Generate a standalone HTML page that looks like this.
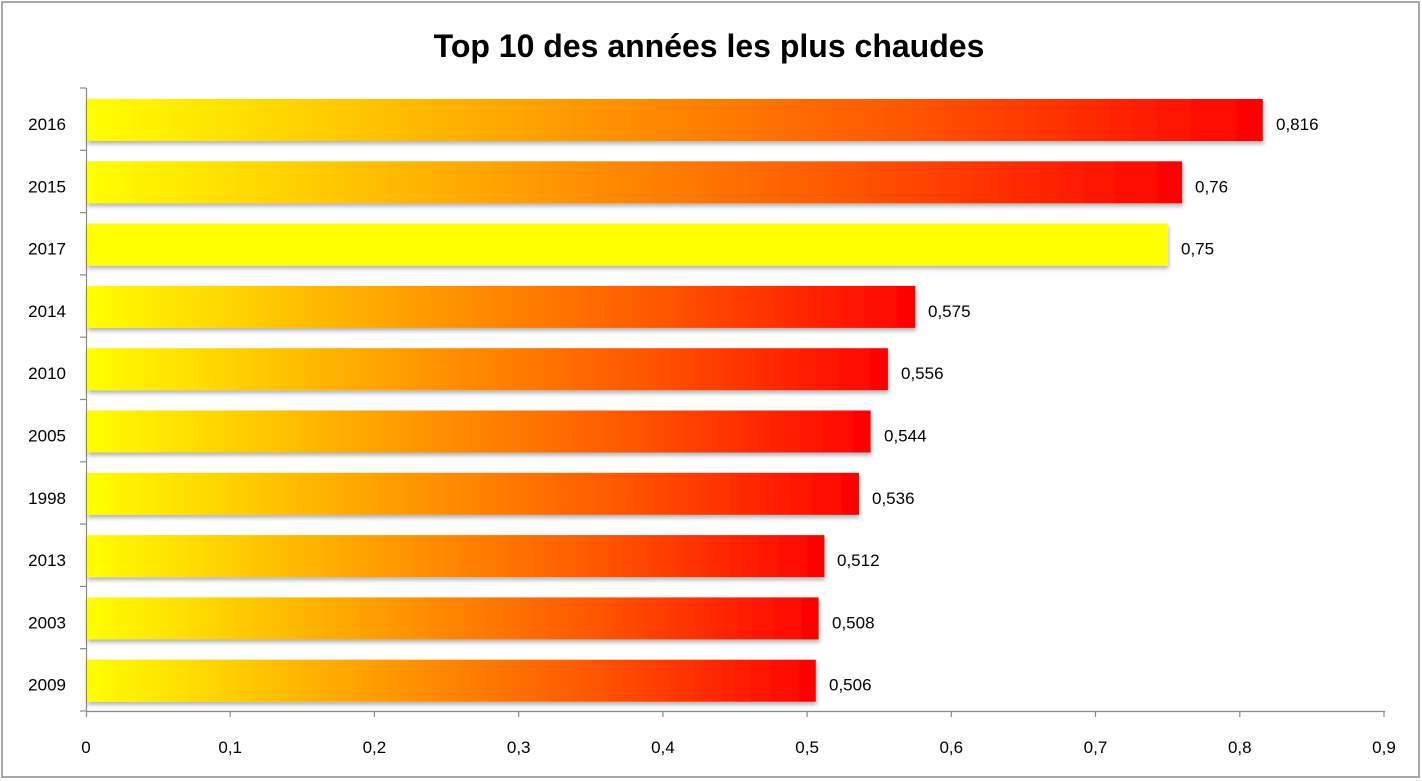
<!DOCTYPE html>
<html><head><meta charset="utf-8"><style>
html,body{margin:0;padding:0;background:#fff;}
svg{display:block;font-family:"Liberation Sans",sans-serif;}
</style></head><body>
<svg width="1422" height="781" viewBox="0 0 1422 781">
<defs>
<linearGradient id="g" x1="0" y1="0" x2="1" y2="0">
<stop offset="0" stop-color="#ffff00"/>
<stop offset="0.35" stop-color="#ffa800"/>
<stop offset="0.7" stop-color="#ff5500"/>
<stop offset="1" stop-color="#ff0000"/>
</linearGradient>
<filter id="sh" x="-5%" y="-20%" width="110%" height="150%"><feDropShadow dx="1" dy="3" stdDeviation="2" flood-color="#000" flood-opacity="0.3"/></filter>
</defs>
<rect x="2" y="2" width="1417" height="775" fill="#fff" stroke="#8c8c8c" stroke-width="1.5"/>
<text x="709" y="57" text-anchor="middle" font-size="32" font-weight="bold">Top 10 des années les plus chaudes</text>
<g stroke="#888" stroke-width="1.2">
<line x1="86.5" y1="88" x2="86.5" y2="711"/>
<line x1="86" y1="711.5" x2="1385" y2="711.5"/>
<line x1="80" x2="86" y1="88" y2="88"/>
<line x1="80" x2="86" y1="150.3" y2="150.3"/>
<line x1="80" x2="86" y1="212.6" y2="212.6"/>
<line x1="80" x2="86" y1="274.9" y2="274.9"/>
<line x1="80" x2="86" y1="337.2" y2="337.2"/>
<line x1="80" x2="86" y1="399.5" y2="399.5"/>
<line x1="80" x2="86" y1="461.8" y2="461.8"/>
<line x1="80" x2="86" y1="524.1" y2="524.1"/>
<line x1="80" x2="86" y1="586.4" y2="586.4"/>
<line x1="80" x2="86" y1="648.7" y2="648.7"/>
<line x1="80" x2="86" y1="711" y2="711"/>
<line x1="86.5" x2="86.5" y1="711" y2="717"/>
<line x1="230.2" x2="230.2" y1="711" y2="717"/>
<line x1="374.4" x2="374.4" y1="711" y2="717"/>
<line x1="518.7" x2="518.7" y1="711" y2="717"/>
<line x1="662.9" x2="662.9" y1="711" y2="717"/>
<line x1="807.1" x2="807.1" y1="711" y2="717"/>
<line x1="951.3" x2="951.3" y1="711" y2="717"/>
<line x1="1095.5" x2="1095.5" y1="711" y2="717"/>
<line x1="1239.8" x2="1239.8" y1="711" y2="717"/>
<line x1="1384" x2="1384" y1="711" y2="717"/>
</g>
<g filter="url(#sh)">
<rect x="87" y="99" width="1175.8" height="42" fill="url(#g)"/>
<rect x="87" y="161.3" width="1095.1" height="42" fill="url(#g)"/>
<rect x="87" y="223.6" width="1080.7" height="42" fill="#ffff00"/>
<rect x="87" y="285.9" width="828.3" height="42" fill="url(#g)"/>
<rect x="87" y="348.2" width="800.9" height="42" fill="url(#g)"/>
<rect x="87" y="410.5" width="783.6" height="42" fill="url(#g)"/>
<rect x="87" y="472.8" width="772" height="42" fill="url(#g)"/>
<rect x="87" y="535.1" width="737.4" height="42" fill="url(#g)"/>
<rect x="87" y="597.4" width="731.6" height="42" fill="url(#g)"/>
<rect x="87" y="659.7" width="728.8" height="42" fill="url(#g)"/>
</g>
<g font-size="17">
<text x="1276" y="130">0,816</text>
<text x="1195" y="192.3">0,76</text>
<text x="1181" y="254.6">0,75</text>
<text x="928" y="316.9">0,575</text>
<text x="901" y="379.2">0,556</text>
<text x="884" y="441.5">0,544</text>
<text x="872" y="503.8">0,536</text>
<text x="837" y="566.1">0,512</text>
<text x="832" y="628.4">0,508</text>
<text x="829" y="690.7">0,506</text>
</g>
<g font-size="17" text-anchor="end">
<text x="66" y="130">2016</text>
<text x="66" y="192.3">2015</text>
<text x="66" y="254.6">2017</text>
<text x="66" y="316.9">2014</text>
<text x="66" y="379.2">2010</text>
<text x="66" y="441.5">2005</text>
<text x="66" y="503.8">1998</text>
<text x="66" y="566.1">2013</text>
<text x="66" y="628.4">2003</text>
<text x="66" y="690.7">2009</text>
</g>
<g font-size="17" text-anchor="middle">
<text x="86" y="753">0</text>
<text x="230.2" y="753">0,1</text>
<text x="374.4" y="753">0,2</text>
<text x="518.7" y="753">0,3</text>
<text x="662.9" y="753">0,4</text>
<text x="807.1" y="753">0,5</text>
<text x="951.3" y="753">0,6</text>
<text x="1095.5" y="753">0,7</text>
<text x="1239.8" y="753">0,8</text>
<text x="1384" y="753">0,9</text>
</g>
</svg>
</body></html>
